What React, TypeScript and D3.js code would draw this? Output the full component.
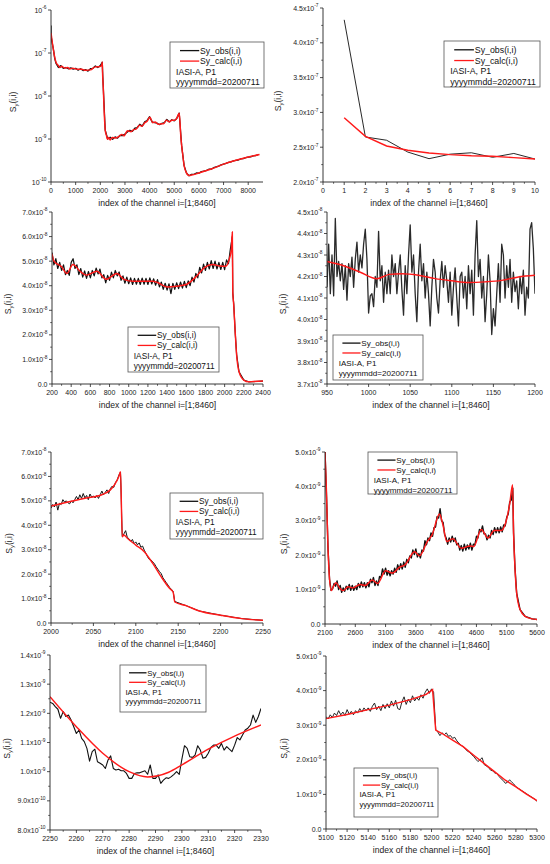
import React from "react";
import * as d3 from "d3";

type Pt = [number, number];

const grid = (start: number, step: number, vals: number[]): Pt[] =>
	vals.map((v, i) => [start + i * step, v]);

// ---------- panel 1: whole spectrum, log axis (absolute values)
const p1XTicks = [0, 1000, 2000, 3000, 4000, 5000, 6000, 7000, 8000];
const p1YTicks = [1e-10, 1e-9, 1e-8, 1e-7, 1e-6];
const p1Calc: Pt[] = [
	[1, 2.93e-7], [50, 1.8e-7], [100, 1.17e-7], [150, 8e-8], [200, 6.2e-8], [300, 5.1e-8],
	[360, 4.6e-8], [430, 4.9e-8], [560, 4.45e-8], [680, 4.6e-8], [760, 4.25e-8], [880, 4.45e-8],
	[1050, 4.18e-8], [1250, 4.18e-8], [1400, 3.95e-8], [1600, 4.05e-8], [1800, 4.75e-8],
	[1950, 4.8e-8], [2050, 5.1e-8], [2080, 6.2e-8], [2090, 3.7e-8], [2120, 1.6e-8],
	[2160, 4e-9], [2200, 1.6e-9], [2250, 1.2e-9], [2290, 0.98e-9], [2340, 1.08e-9],
	[2400, 0.95e-9], [2480, 1.08e-9], [2620, 1.05e-9], [2760, 1.15e-9], [2880, 1.28e-9],
	[2960, 1.18e-9], [3100, 1.55e-9], [3250, 1.48e-9], [3350, 1.65e-9], [3450, 1.7e-9],
	[3600, 2.1e-9], [3680, 1.98e-9], [3810, 2.4e-9], [3900, 2.6e-9], [4010, 3.2e-9],
	[4130, 2.4e-9], [4220, 2.48e-9], [4360, 2.2e-9], [4500, 2.27e-9], [4560, 2.25e-9],
	[4680, 2.75e-9], [4790, 2.5e-9], [4900, 2.72e-9], [5010, 2.72e-9], [5080, 2.9e-9],
	[5150, 3.5e-9], [5200, 4.0e-9], [5230, 2.6e-9], [5260, 1.3e-9], [5300, 7e-10],
	[5340, 4.5e-10], [5400, 2.4e-10], [5480, 1.7e-10], [5600, 1.42e-10], [5700, 1.45e-10],
	[6000, 1.62e-10], [6500, 2.0e-10], [7000, 2.6e-10], [7500, 3.2e-10], [8000, 3.8e-10],
	[8460, 4.35e-10],
];
const p1Obs: Pt[] = [
	[1, 4.35e-7], [2, 2.65e-7], [5, 2.34e-7], [10, 2.33e-7], [50, 1.7e-7], [100, 1.2e-7],
	[150, 7.5e-8], [200, 5.8e-8], [300, 4.6e-8], [400, 5.1e-8], [500, 4.4e-8], [600, 4.6e-8],
	[700, 4.3e-8], [800, 4.5e-8], [900, 4.2e-8], [1000, 4.4e-8], [1100, 4.0e-8], [1200, 4.3e-8],
	[1300, 3.9e-8], [1400, 4.1e-8], [1500, 3.8e-8], [1600, 4.3e-8], [1700, 4.4e-8],
	[1800, 5.0e-8], [1900, 4.6e-8], [2000, 5.1e-8], [2080, 6.1e-8], [2100, 2.9e-8],
	[2200, 1.6e-9], [2300, 1.0e-9], [2400, 1.1e-9], [2500, 0.98e-9], [2600, 1.12e-9],
	[2700, 1.05e-9], [2800, 1.22e-9], [2900, 1.2e-9], [3000, 1.3e-9], [3100, 1.45e-9],
	[3200, 1.6e-9], [3300, 1.5e-9], [3400, 1.78e-9], [3500, 1.85e-9], [3600, 2.2e-9],
	[3700, 2.0e-9], [3800, 2.5e-9], [3900, 2.7e-9], [4000, 3.3e-9], [4100, 2.5e-9],
	[4200, 2.4e-9], [4300, 2.35e-9], [4400, 2.15e-9], [4500, 2.3e-9], [4600, 2.4e-9],
	[4700, 2.85e-9], [4800, 2.5e-9], [4900, 2.8e-9], [5000, 2.65e-9], [5100, 3.0e-9],
	[5200, 4.0e-9], [5300, 7e-10], [5400, 2.4e-10], [5500, 1.6e-10], [5600, 1.4e-10],
	[5700, 1.5e-10], [5800, 1.5e-10], [5900, 1.62e-10], [6000, 1.6e-10], [6100, 1.75e-10],
	[6200, 1.8e-10], [6300, 1.85e-10], [6400, 1.98e-10], [6500, 2.0e-10], [6600, 2.15e-10],
	[6700, 2.25e-10], [6800, 2.35e-10], [6900, 2.5e-10], [7000, 2.6e-10], [7100, 2.7e-10],
	[7200, 2.85e-10], [7300, 2.95e-10], [7400, 3.1e-10], [7500, 3.2e-10], [7600, 3.25e-10],
	[7700, 3.45e-10], [7800, 3.5e-10], [7900, 3.7e-10], [8000, 3.8e-10], [8100, 3.85e-10],
	[8200, 4.05e-10], [8300, 4.1e-10], [8400, 4.3e-10],
];

// ---------- panel 2: channels 1..10 (x1e-7)
const p2XTicks = [0, 1, 2, 3, 4, 5, 6, 7, 8, 9, 10];
const p2YTicks = [2.0, 2.5, 3.0, 3.5, 4.0, 4.5];
const p2Channels = [1, 2, 3, 4, 5, 6, 7, 8, 9, 10];
const p2ObsVals = [4.33, 2.647, 2.6, 2.43, 2.335, 2.4, 2.42, 2.355, 2.41, 2.33];
const p2CalcVals = [2.924, 2.656, 2.517, 2.455, 2.417, 2.393, 2.378, 2.37, 2.35, 2.33];

// ---------- panel 3: channels 200..2400 (x1e-8)
const p3XTicks = [200, 400, 600, 800, 1000, 1200, 1400, 1600, 1800, 2000, 2200, 2400];
const p3YTicks = [0, 1, 2, 3, 4, 5, 6, 7];
const p3Calc: Pt[] = [
	[200, 5.3], [220, 5.0], [300, 4.77], [356, 4.5], [418, 4.86], [500, 4.56], [560, 4.43],
	[668, 4.59], [765, 4.26], [876, 4.5], [950, 4.26], [1050, 4.18], [1250, 4.18], [1300, 4.13],
	[1400, 3.95], [1500, 3.98], [1600, 4.05], [1700, 4.36], [1800, 4.77], [1880, 4.86],
	[1950, 4.8], [2010, 4.79], [2050, 5.1], [2070, 5.5], [2080, 6.19], [2085, 3.75],
	[2095, 3.2], [2110, 2.12], [2125, 1.18], [2150, 0.5], [2200, 0.16], [2250, 0.09],
	[2300, 0.1], [2400, 0.12],
];
const p3ObsVals = [
	5.35, 4.85, 5.1, 4.7, 4.95, 4.62, 4.85, 4.45, 4.62, 4.42,
	4.95, 5.1, 4.7, 4.85, 4.45, 4.7, 4.35, 4.6, 4.3, 4.58,
	4.32, 4.62, 4.4, 4.72, 4.48, 4.68, 4.32, 4.45, 4.12, 4.42,
	4.22, 4.55, 4.32, 4.62, 4.4, 4.56, 4.22, 4.4, 4.1, 4.35,
	4.08, 4.32, 4.05, 4.3, 4.06, 4.3, 4.05, 4.31, 4.06, 4.3,
	4.05, 4.32, 4.07, 4.28, 4.02, 4.25, 3.95, 4.15, 3.85, 4.1,
	3.82, 4.08, 3.68, 4.1, 3.85, 4.12, 3.88, 4.15, 3.9, 4.18,
	3.92, 4.2, 4.0, 4.35, 4.15, 4.5, 4.32, 4.75, 4.52, 4.88,
	4.62, 4.95, 4.68, 5.02, 4.7, 5.0, 4.68, 4.95, 4.66, 4.95,
	4.65, 5.05, 4.9, 5.5, 6.0,
];
const p3ObsTail: Pt[] = [
	[2085, 3.7], [2095, 3.25], [2110, 2.1], [2125, 1.2], [2150, 0.5], [2200, 0.16],
	[2250, 0.09], [2300, 0.1], [2400, 0.12],
];

// ---------- panel 4: channels 950..1200 (x1e-8)
const p4XTicks = [950, 1000, 1050, 1100, 1150, 1200];
const p4YTicks = [3.7, 3.8, 3.9, 4.0, 4.1, 4.2, 4.3, 4.4, 4.5];
const p4Calc: Pt[] = [
	[950, 4.27], [970, 4.25], [990, 4.22], [1010, 4.19], [1025, 4.21], [1040, 4.213],
	[1060, 4.206], [1080, 4.19], [1100, 4.18], [1120, 4.172], [1140, 4.175], [1160, 4.182],
	[1180, 4.198], [1200, 4.206],
];
const p4ObsVals = [
	4.15, 4.35, 4.12, 4.3, 4.11, 4.47, 4.2, 4.27, 4.18, 4.26,
	4.14, 4.25, 4.09, 4.26, 4.2, 4.29, 4.15, 4.28, 4.36, 4.22,
	4.3, 4.24, 4.35, 4.42, 4.28, 4.03, 4.11, 4.12, 4.06, 4.2,
	4.15, 4.41, 4.18, 4.25, 4.08, 4.22, 4.12, 4.23, 4.12, 4.3,
	4.2, 4.26, 4.12, 4.22, 4.3, 4.14, 4.02, 4.25, 4.12, 4.3,
	4.44, 4.22, 4.3, 4.12, 3.99, 4.22, 4.35, 4.18, 4.26, 4.1,
	4.22, 4.12, 3.97, 4.15, 4.28, 4.22, 4.1, 4.03, 4.18, 4.27,
	4.15, 4.25, 4.18, 4.08, 4.22, 4.02, 4.15, 4.24, 4.1, 3.97,
	4.2, 4.22, 4.1, 4.2, 4.05, 4.25, 4.12, 4.23, 4.02, 4.3,
	4.46, 4.2, 4.28, 4.1, 4.2, 3.99, 4.12, 4.3, 4.18, 3.93,
	4.05, 3.97, 4.12, 4.26, 4.08, 4.35, 4.3, 4.1, 4.25, 4.15,
	4.28, 4.08, 4.22, 4.13, 4.18, 4.05, 4.2, 4.12, 4.23, 4.02,
	4.15, 4.1, 4.42, 4.45, 4.33, 4.12,
];

// ---------- panel 5: channels 2000..2250 (x1e-8)
const p5XTicks = [2000, 2050, 2100, 2150, 2200, 2250];
const p5YTicks = [0, 1, 2, 3, 4, 5, 6, 7];
const p5Calc: Pt[] = [
	[2000, 4.79], [2020, 4.95], [2040, 5.11], [2060, 5.25], [2070, 5.45], [2075, 5.66],
	[2080, 6.0], [2082, 6.19], [2084, 3.53], [2086, 3.6], [2090, 3.47], [2100, 3.19],
	[2110, 2.92], [2120, 2.44], [2130, 1.89], [2140, 1.41], [2144, 1.27], [2146, 0.86],
	[2160, 0.7], [2175, 0.49], [2200, 0.32], [2225, 0.18], [2250, 0.11],
];
const p5ObsVals = [
	4.7, 4.85, 4.75, 4.95, 4.62, 4.9, 4.85, 5.05, 4.95, 5.0,
	4.92, 4.88, 5.0, 4.92, 5.05, 5.18, 5.05, 5.25, 5.1, 5.3,
	5.12, 5.22, 5.05, 5.28, 5.15, 5.2, 5.12, 5.22, 5.1, 5.25,
	5.4, 5.25, 5.35, 5.45, 5.3, 5.5, 5.6, 5.55, 5.75, 5.85,
	6.05, 6.18, 3.55, 3.65, 3.78, 3.5, 3.45, 3.35, 3.42, 3.25,
	3.32, 3.2, 3.28, 3.1, 3.15, 2.98, 2.85, 2.7, 2.6, 2.58,
	2.5, 2.42, 2.3, 2.2, 2.1, 2.02, 1.85, 1.75, 1.65, 1.55,
	1.45, 1.38, 1.3, 0.88,
];
const p5ObsTail: Pt[] = [[2160, 0.7], [2175, 0.49], [2200, 0.32], [2225, 0.18], [2250, 0.11]];

// ---------- panel 6: channels 2100..5600 (x1e-9)
const p6XTicks = [2100, 2600, 3100, 3600, 4100, 4600, 5100, 5600];
const p6YTicks = [0, 1, 2, 3, 4, 5];
const p6Calc: Pt[] = [
	[2100, 5.0], [2123, 3.9], [2145, 2.45], [2168, 1.48], [2205, 0.97], [2235, 1.08],
	[2282, 1.2], [2340, 1.05], [2400, 0.97], [2480, 1.08], [2560, 1.05], [2680, 1.15],
	[2765, 1.12], [2880, 1.28], [2970, 1.18], [3100, 1.55], [3210, 1.48], [3330, 1.65],
	[3420, 1.72], [3580, 2.1], [3660, 1.98], [3790, 2.4], [3870, 2.6], [3990, 3.2],
	[4045, 2.9], [4110, 2.4], [4210, 2.48], [4350, 2.2], [4495, 2.27], [4555, 2.25],
	[4680, 2.75], [4790, 2.5], [4895, 2.72], [5010, 2.72], [5075, 2.9], [5150, 3.5],
	[5197, 4.05], [5213, 2.65], [5235, 1.68], [5264, 0.9], [5320, 0.42], [5405, 0.22],
	[5520, 0.15], [5600, 0.13],
];
const p6ObsHead: Pt[] = [[2100, 5.0], [2125, 3.7], [2150, 2.2], [2175, 1.3], [2200, 0.98]];
const p6ObsVals = [
	1.02, 1.18, 1.1, 1.25, 1.0, 1.12, 0.92, 1.05, 0.95, 1.1,
	1.0, 1.15, 0.98, 1.12, 0.98, 1.1, 1.0, 1.18, 1.06, 1.22,
	1.08, 1.2, 1.05, 1.2, 1.08, 1.3, 1.2, 1.35, 1.12, 1.25,
	1.12, 1.38, 1.35, 1.6, 1.45, 1.62, 1.42, 1.55, 1.4, 1.55,
	1.45, 1.62, 1.5, 1.72, 1.58, 1.75, 1.6, 1.8, 1.65, 1.88,
	1.78, 1.98, 1.92, 2.15, 2.02, 2.18, 1.95, 2.05, 1.92, 2.15,
	2.12, 2.42, 2.3, 2.5, 2.42, 2.65, 2.55, 2.8, 2.82, 3.12,
	3.08, 3.35, 3.0, 2.95, 2.6, 2.5, 2.32, 2.5, 2.38, 2.55,
	2.4, 2.5, 2.3, 2.35, 2.15, 2.28, 2.12, 2.32, 2.15, 2.3,
	2.18, 2.35, 2.15, 2.32, 2.3, 2.55, 2.5, 2.75, 2.68, 2.85,
	2.62, 2.62, 2.45, 2.58, 2.5, 2.72, 2.6, 2.8, 2.65, 2.8,
	2.65, 2.82, 2.68, 2.88, 2.85, 3.1, 3.2, 3.55, 3.6, 3.95,
];
const p6ObsTail: Pt[] = [
	[5213, 2.65], [5235, 1.68], [5264, 0.9], [5320, 0.42], [5405, 0.22], [5520, 0.15], [5600, 0.13],
];

// ---------- panel 7: channels 2250..2330 (x1e-9)
const p7XTicks = [2250, 2260, 2270, 2280, 2290, 2300, 2310, 2320, 2330];
const p7YTicks = [0.8, 0.9, 1.0, 1.1, 1.2, 1.3, 1.4];
const p7Calc: Pt[] = [
	[2250, 1.257], [2260, 1.154], [2270, 1.063], [2280, 1.0], [2287, 0.982], [2295, 0.998],
	[2300, 1.023], [2310, 1.077], [2320, 1.122], [2330, 1.16],
];
const p7ObsVals = [
	1.238, 1.234, 1.223, 1.214, 1.183, 1.206, 1.189, 1.194, 1.177, 1.154,
	1.131, 1.143, 1.114, 1.103, 1.08, 1.036, 1.069, 1.077, 1.034, 1.029,
	1.023, 1.011, 1.04, 1.054, 1.011, 1.006, 1.008, 1.003, 1.003, 0.994,
	0.977, 0.977, 0.994, 0.996, 0.996, 1.0, 1.003, 0.991, 1.023, 0.977,
	0.977, 0.989, 0.96, 0.971, 0.979, 0.977, 0.983, 0.991, 1.0, 0.991,
	1.043, 1.089, 1.08, 1.051, 1.049, 1.057, 1.089, 1.074, 1.046, 1.049,
	1.063, 1.083, 1.091, 1.091, 1.08, 1.097, 1.074, 1.086, 1.077, 1.069,
	1.091, 1.117, 1.109, 1.126, 1.143, 1.149, 1.16, 1.194, 1.169, 1.189,
	1.217,
];

// ---------- panel 8: channels 5100..5300 (x1e-9)
const p8XTicks = [5100, 5120, 5140, 5160, 5180, 5200, 5220, 5240, 5260, 5280, 5300];
const p8YTicks = [0, 1, 2, 3, 4, 5];
const p8Calc: Pt[] = [
	[5100, 3.19], [5120, 3.31], [5140, 3.45], [5160, 3.58], [5180, 3.74], [5195, 3.89],
	[5201, 4.03], [5204, 2.86], [5210, 2.76], [5220, 2.57], [5230, 2.38], [5240, 2.13],
	[5250, 1.89], [5260, 1.65], [5270, 1.41], [5280, 1.22], [5290, 1.01], [5300, 0.82],
];
const p8ObsVals = [
	3.25, 3.18, 3.3, 3.22, 3.35, 3.28, 3.42, 3.3, 3.38, 3.28,
	3.45, 3.32, 3.4, 3.3, 3.42, 3.35, 3.48, 3.38, 3.5, 3.42,
	3.5, 3.4, 3.55, 3.64, 3.45, 3.55, 3.42, 3.6, 3.48, 3.62,
	3.5, 3.7, 3.55, 3.72, 3.48, 3.45, 3.68, 3.82, 3.6, 3.75,
	3.65, 3.85, 3.7, 3.8, 3.72, 3.88, 3.78, 3.95, 4.05, 3.92,
	4.05, 3.95, 2.88, 2.8, 2.7, 2.78, 2.72, 2.78, 2.68, 2.7,
	2.62, 2.65, 2.55, 2.48, 2.42, 2.38, 2.32, 2.25, 2.22, 2.15,
	2.1, 2.02, 1.95, 2.0, 2.06, 1.86, 1.82, 1.78, 1.7, 1.68,
	1.62, 1.6, 1.52, 1.45, 1.4, 1.32, 1.35, 1.42, 1.36, 1.3,
	1.22, 1.18, 1.14, 1.1, 1.06, 1.02, 0.98, 0.94, 0.9, 0.86,
	0.8,
];

const legendRows = ["Sy_obs(i,i)", "Sy_calc(i,i)", "IASI-A, P1", "yyyymmdd=20200711"];
const xTitle = "index of the channel i=[1;8460]";

const FONT = '"Liberation Sans", Arial, Helvetica, sans-serif';
const RED = "#ff1a1a";

const sci = (exp: string) => (v: number): [string, string] =>
	v === 0 ? ["0.0", ""] : [v.toFixed(1) + "x10", exp];

interface PanelProps {
	id: string;
	box: [number, number, number, number]; // left, top, right, bottom
	xDomain: [number, number];
	xTicks: number[];
	yDomain: [number, number];
	yTicks: number[];
	yLog?: boolean;
	fmt: (v: number) => [string, string];
	obs: Pt[];
	calc: Pt[];
	smooth?: boolean;
	obsWidth?: number;
	obsColor?: string;
	legend: [number, number, number, number, number]; // x, y, w, h, font
	yLabelX: number;
}

function Panel(p: PanelProps) {
	const [x0, y0, x1, y1] = p.box;
	const x = d3.scaleLinear().domain(p.xDomain).range([x0, x1]);
	const y = (p.yLog ? d3.scaleLog() : d3.scaleLinear()).domain(p.yDomain).range([y1, y0]);
	const line = d3.line<Pt>().x((d) => x(d[0])).y((d) => y(d[1]));
	const calcLine = d3
		.line<Pt>()
		.x((d) => x(d[0]))
		.y((d) => y(d[1]))
		.curve(p.smooth ? d3.curveMonotoneX : d3.curveLinear);

	const mids = (t: number[]) => t.slice(1).map((v, i) => (v + t[i]) / 2);
	const xMinor = mids(p.xTicks);
	const yMinor = p.yLog ? [] : mids(p.yTicks);

	const [lx, ly, lw, lh, lf] = p.legend;
	const rowY = (i: number) => ly + lf * 1.0 + i * lf * 1.22;
	const ink = "#222";

	return (
		<g>
			<defs>
				<clipPath id={p.id}>
					<rect x={x0} y={y0 - 1} width={x1 - x0} height={y1 - y0 + 1} />
				</clipPath>
			</defs>
			<g clipPath={`url(#${p.id})`}>
				<path
					d={line(p.obs) ?? ""}
					fill="none"
					stroke={p.obsColor ?? "#111"}
					strokeWidth={p.obsWidth ?? 0.9}
					strokeLinejoin="round"
				/>
				<path d={calcLine(p.calc) ?? ""} fill="none" stroke={RED} strokeWidth={1.45} />
			</g>
			{/* axes */}
			<line x1={x0} x2={x0} y1={y0} y2={y1} stroke={ink} strokeWidth={0.9} />
			<line x1={x0} x2={x1} y1={y1} y2={y1} stroke={ink} strokeWidth={0.9} />
			{p.xTicks.map((t) => (
				<g key={"xt" + t}>
					<line x1={x(t)} x2={x(t)} y1={y1} y2={y1 + 3} stroke={ink} strokeWidth={0.8} />
					<text x={x(t)} y={y1 + 10.5} fontSize={7} textAnchor="middle" fill={ink}>
						{t}
					</text>
				</g>
			))}
			{xMinor.map((t) => (
				<line key={"xm" + t} x1={x(t)} x2={x(t)} y1={y1} y2={y1 + 1.8} stroke={ink} strokeWidth={0.7} />
			))}
			{p.yTicks.map((t) => {
				const [base, exp] = p.fmt(t);
				return (
					<g key={"yt" + t}>
						<line x1={x0 - 3} x2={x0} y1={y(t)} y2={y(t)} stroke={ink} strokeWidth={0.8} />
						<text x={x0 - 4.5} y={y(t) + 2.5} fontSize={7} textAnchor="end" fill={ink}>
							{base}
							{exp && (
								<tspan dy={-3.2} fontSize={4.8}>
									{exp}
								</tspan>
							)}
						</text>
					</g>
				);
			})}
			{yMinor.map((t) => (
				<line key={"ym" + t} x1={x0 - 1.8} x2={x0} y1={y(t)} y2={y(t)} stroke={ink} strokeWidth={0.7} />
			))}
			{/* titles */}
			<text x={(x0 + x1) / 2} y={y1 + 24} fontSize={8.6} textAnchor="middle" fill={ink}>
				{xTitle}
			</text>
			<text
				transform={`translate(${p.yLabelX},${(y0 + y1) / 2 + 6}) rotate(-90)`}
				fontSize={8.6}
				textAnchor="middle"
				fill={ink}
			>
				S
				<tspan dy={2} fontSize={6}>
					y
				</tspan>
				<tspan dy={-2}>(i,i)</tspan>
			</text>
			{/* legend */}
			<rect x={lx} y={ly} width={lw} height={lh} fill="#fff" stroke="#555" strokeWidth={0.8} />
			<line x1={lx + lf * 1.16} x2={lx + lf * 3.4} y1={rowY(0)} y2={rowY(0)} stroke="#111" strokeWidth={1.3} />
			<line x1={lx + lf * 1.16} x2={lx + lf * 3.4} y1={rowY(1)} y2={rowY(1)} stroke={RED} strokeWidth={1.3} />
			{legendRows.map((r, i) => (
				<text
					key={r}
					x={lx + (i < 2 ? lf * 3.5 : lf * 0.7)}
					y={rowY(i) + lf * 0.36}
					fontSize={lf}
					fill="#111"
				>
					{r}
				</text>
			))}
		</g>
	);
}

export default function App() {
	const panels: PanelProps[] = [
		{
			id: "c1", box: [51, 10, 263, 182], xDomain: [0, 8600], xTicks: p1XTicks,
			yDomain: [1e-10, 1e-6], yTicks: p1YTicks, yLog: true,
			fmt: (v) => ["10", String(Math.round(Math.log10(v)))],
			obs: p1Obs, calc: p1Calc, smooth: true, obsWidth: 1.3,
			legend: [170, 42, 94, 46, 8.6], yLabelX: 16,
		},
		{
			id: "c2", box: [323, 8, 535, 182], xDomain: [0, 10], xTicks: p2XTicks,
			yDomain: [2.0, 4.5], yTicks: p2YTicks, fmt: sci("-7"),
			obs: p2Channels.map((c, i) => [c, p2ObsVals[i]] as Pt),
			calc: p2Channels.map((c, i) => [c, p2CalcVals[i]] as Pt),
			legend: [444, 41, 96, 46, 8.8], yLabelX: 281,
		},
		{
			id: "c3", box: [52, 212, 263, 384], xDomain: [200, 2400], xTicks: p3XTicks,
			yDomain: [0, 7], yTicks: p3YTicks, fmt: sci("-8"),
			obs: [...grid(200, 20, p3ObsVals), ...p3ObsTail], calc: p3Calc, smooth: true, obsWidth: 1.2,
			legend: [128, 327, 91, 45, 8.3], yLabelX: 11,
		},
		{
			id: "c4", box: [327, 212, 535, 384], xDomain: [950, 1200], xTicks: p4XTicks,
			yDomain: [3.7, 4.5], yTicks: p4YTicks, fmt: sci("-8"),
			obs: grid(950, 2, p4ObsVals), calc: p4Calc, smooth: true, obsWidth: 1.3, obsColor: "#2a2a2a",
			legend: [333, 335, 90, 45, 8.1], yLabelX: 286,
		},
		{
			id: "c5", box: [51, 452, 263, 623], xDomain: [2000, 2250], xTicks: p5XTicks,
			yDomain: [0, 7], yTicks: p5YTicks, fmt: sci("-8"),
			obs: [...grid(2000, 2, p5ObsVals), ...p5ObsTail], calc: p5Calc, smooth: true, obsWidth: 1.0,
			legend: [170, 493, 93, 46, 8.3], yLabelX: 12,
		},
		{
			id: "c6", box: [325, 452, 537, 624], xDomain: [2100, 5600], xTicks: p6XTicks,
			yDomain: [0, 5], yTicks: p6YTicks, fmt: sci("-9"),
			obs: [...p6ObsHead, ...grid(2225, 25, p6ObsVals), ...p6ObsTail], calc: p6Calc, smooth: true,
			obsWidth: 1.4,
			legend: [368, 452, 89, 42, 8.1], yLabelX: 287,
		},
		{
			id: "c7", box: [50, 655, 261, 830], xDomain: [2250, 2330], xTicks: p7XTicks,
			yDomain: [0.8, 1.4], yTicks: p7YTicks,
			fmt: (v) => (v < 0.95 ? [(v * 10).toFixed(1) + "x10", "-10"] : [v.toFixed(1) + "x10", "-9"]),
			obs: grid(2250, 1, p7ObsVals), calc: p7Calc, smooth: true, obsWidth: 1.1,
			legend: [120, 665, 86, 47, 7.8], yLabelX: 10,
		},
		{
			id: "c8", box: [326, 656, 537, 829], xDomain: [5100, 5300], xTicks: p8XTicks,
			yDomain: [0, 5], yTicks: p8YTicks, fmt: sci("-9"),
			obs: grid(5100, 2, p8ObsVals), calc: p8Calc,
			legend: [354, 768, 84, 49, 7.7], yLabelX: 287,
		},
	];

	return (
		<svg
			width={550}
			height={864}
			viewBox="0 0 550 864"
			style={{ position: "absolute", left: 0, top: 0, background: "#fff" }}
			fontFamily={FONT}
		>
			<rect width={550} height={864} fill="#fff" />
			{panels.map((p) => (
				<Panel key={p.id} {...p} />
			))}
		</svg>
	);
}
